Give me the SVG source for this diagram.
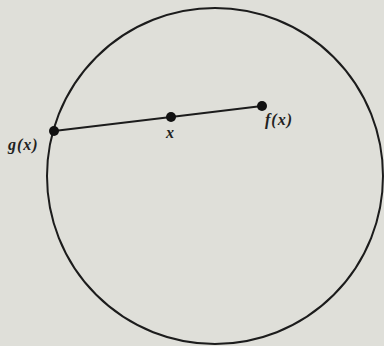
<svg xmlns="http://www.w3.org/2000/svg" width="384" height="346" viewBox="0 0 384 346">
<style>
.ln{fill:none;stroke:#1c1c1c;stroke-width:2}
.dot{fill:#111}
.lb{font-family:"Liberation Serif","DejaVu Serif",serif;font-style:italic;font-weight:bold;font-size:16px;letter-spacing:1px;fill:#222}
</style>
<rect width="384" height="346" fill="#dfdfd9"/>
<g id="circle"><circle class="ln" cx="215" cy="176" r="168"/></g>
<g id="connectors"><polyline class="ln" points="54,131 171,117 262,106"/></g>
<g id="node-g"><circle class="dot" cx="54" cy="131" r="5"/><text class="lb" x="8" y="150">g(x)</text></g>
<g id="node-x"><circle class="dot" cx="171" cy="117" r="5"/><text class="lb" x="166" y="138">x</text></g>
<g id="node-f"><circle class="dot" cx="262" cy="106" r="5"/><text class="lb" x="265" y="125">f(x)</text></g>
</svg>
